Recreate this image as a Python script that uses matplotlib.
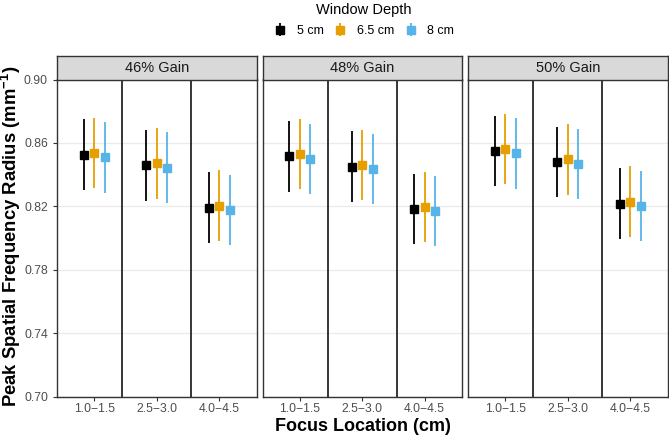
import matplotlib
matplotlib.use("Agg")
import matplotlib.pyplot as plt
import numpy as np

plt.rcParams["font.family"] = ["Liberation Sans", "DejaVu Sans"]
plt.rcParams["mathtext.fontset"] = "custom"
plt.rcParams["mathtext.rm"] = "Liberation Sans"
plt.rcParams["mathtext.bf"] = "Liberation Sans:bold"

# data
gains = ["46% Gain", "48% Gain", "50% Gain"]
locations = ["1.0\u22121.5", "2.5\u22123.0", "4.0\u22124.5"]
depths = ["5 cm", "6.5 cm", "8 cm"]
colors = ["#000000", "#E69F00", "#56B4E9"]

# means per gain panel, rows = depth, cols = focus location
mean_46 = [[0.8526, 0.8458, 0.8192],
           [0.8538, 0.8471, 0.8204],
           [0.8509, 0.8444, 0.8177]]
mean_48 = [[0.8515, 0.8450, 0.8183],
           [0.8530, 0.8462, 0.8196],
           [0.8500, 0.8435, 0.8169]]
mean_50 = [[0.8549, 0.8481, 0.8217],
           [0.8563, 0.8496, 0.8230],
           [0.8534, 0.8467, 0.8202]]
half_ci = 0.0222

means = [mean_46, mean_48, mean_50]

W, H = 669, 436
fig = plt.figure(figsize=(W / 100, H / 100), dpi=100)

lefts = [57, 262.5, 468]
pw = 199.5
top_px, bot_px = 79.5, 396.5
strip_top = 55.7

x = np.arange(1, 4)
dodge = [-0.167, 0, 0.167]

for p in range(3):
    ax = fig.add_axes([lefts[p] / W, (H - bot_px) / H, pw / W, (bot_px - top_px) / H])
    for d in range(3):
        ax.errorbar(x + dodge[d], means[p][d], yerr=half_ci, fmt="s", color=colors[d],
                    ms=5.5, elinewidth=1.3, capsize=0, label=depths[d], zorder=3)
    ax.axvline(1.45, color="black", lw=1.1, zorder=2)
    ax.axvline(2.55, color="black", lw=1.1, zorder=2)
    ax.set_xlim(0.4, 3.6)
    ax.set_ylim(0.70, 0.90)
    ax.set_yticks([0.70, 0.74, 0.78, 0.82, 0.86, 0.90])
    ax.set_xticks(x)
    ax.set_xticklabels(locations)
    ax.grid(axis="y", color="#EBEBEB", lw=1, zorder=0)
    ax.set_axisbelow(True)
    for s in ax.spines.values():
        s.set_color("#333333")
        s.set_linewidth(1)
    ax.tick_params(axis="both", colors="#333333", labelcolor="#4D4D4D",
                   labelsize=8.7, length=3, width=0.8)
    ax.tick_params(axis="x", pad=1.5)
    if p == 0:
        ax.set_yticklabels(["0.70", "0.74", "0.78", "0.82", "0.86", "0.90"])
    else:
        ax.tick_params(axis="y", left=False, labelleft=False)
    if p == 1:
        handles, labels = ax.get_legend_handles_labels()

    # strip on top of each panel
    sax = fig.add_axes([lefts[p] / W, (H - top_px) / H, pw / W, (top_px - strip_top) / H])
    sax.set_facecolor("#D9D9D9")
    sax.set_xticks([])
    sax.set_yticks([])
    for s in sax.spines.values():
        s.set_color("#333333")
        s.set_linewidth(1)
    sax.text(0.5, 0.5, gains[p], ha="center", va="center", fontsize=10.5,
             color="#1A1A1A", transform=sax.transAxes)

fig.text(11 / W, 1 - 236 / H, r"Peak Spatial Frequency Radius (mm$^{\mathbf{-1}}$)",
         rotation=90, ha="center", va="center", fontsize=13.3, fontweight="bold")
fig.text(362.5 / W, 1 - 426 / H, "Focus Location (cm)", ha="center", va="center",
         fontsize=13, fontweight="bold")

leg = fig.legend(handles, labels, loc="upper center", bbox_to_anchor=(364 / W, 1.02),
                 ncol=3, frameon=False, title="Window Depth", title_fontsize=10.5,
                 fontsize=9, handlelength=1.0, handletextpad=0.8, columnspacing=0.85,
                 labelspacing=0.68)

fig.savefig("out.png", dpi=100)
